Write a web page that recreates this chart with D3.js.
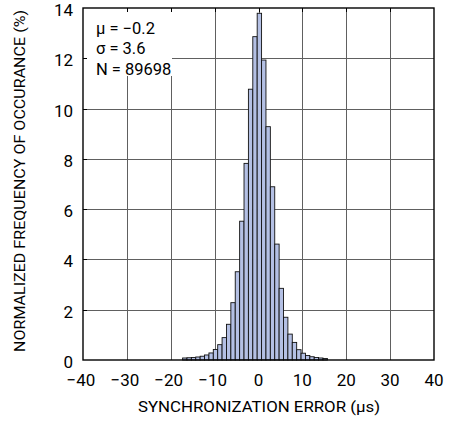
<!DOCTYPE html>
<html>
<head>
<meta charset="utf-8">
<script src="https://cdn.jsdelivr.net/npm/d3@7"></script>
<style>
  html, body { margin: 0; padding: 0; background: #fff; }
  svg { display: block; }
  text { font-family: Roboto, "Liberation Sans", sans-serif; fill: #000; }
</style>
</head>
<body>
<svg id="chart" width="453" height="421"></svg>
<script>
// Histogram bins (µs, bin label) and normalized frequency (%)
const binStarts = [-17,-16,-15,-14,-13,-12,-11,-10,-9,-8,-7,-6,-5,-4,-3,-2,-1,0,1,2,3,4,5,6,7,8,9,10,11,12,13,14,15];
const frequency = [0.08,0.09,0.10,0.12,0.15,0.20,0.28,0.42,0.61,0.89,1.42,2.28,3.51,5.52,7.82,10.77,12.86,13.79,11.93,9.28,6.89,4.61,2.85,1.70,1.03,0.70,0.41,0.27,0.18,0.13,0.10,0.08,0.06];
const xTicks = [-40,-30,-20,-10,0,10,20,30,40];
const yTicks = [0,2,4,6,8,10,12,14];
const statsLines = ["μ = −0.2", "σ = 3.6", "N = 89698"];
const xTitle = "SYNCHRONIZATION ERROR (μs)";
const yTitle = "NORMALIZED FREQUENCY OF OCCURANCE (%)";

const svg = d3.select("#chart");
const L = 83, R = 434, T = 8, B = 360;
const x = d3.scaleLinear().domain([-40, 40]).range([L, R]);
const y = d3.scaleLinear().domain([0, 14]).range([B, T]);
const binShift = -0.3, binW = 1;

// grid
const grid = svg.append("g").attr("stroke", "#606060").attr("stroke-width", 1);
grid.selectAll("line.v").data(xTicks.slice(1, -1)).join("line")
  .attr("x1", d => Math.round(x(d)) + 0.5).attr("x2", d => Math.round(x(d)) + 0.5)
  .attr("y1", T).attr("y2", B);
grid.selectAll("line.h").data(yTicks.slice(1, -1)).join("line")
  .attr("class", "h")
  .attr("x1", L).attr("x2", R)
  .attr("y1", d => Math.round(y(d)) + 0.5).attr("y2", d => Math.round(y(d)) + 0.5);

// bars
const data = binStarts.map((b, i) => ({ b, v: frequency[i] }));
svg.append("g").selectAll("rect").data(data).join("rect")
  .attr("x", d => x(d.b + binShift))
  .attr("width", d => x(d.b + binShift + binW) - x(d.b + binShift))
  .attr("y", d => y(d.v))
  .attr("height", d => y(0) - y(d.v))
  .attr("fill", "#b4c0e4")
  .attr("stroke", "#111")
  .attr("stroke-width", 0.9);

// stats box
svg.append("rect").attr("x", L + 4).attr("y", T + 4).attr("width", 85).attr("height", 64).attr("fill", "#fff");
svg.append("g").selectAll("text").data(statsLines).join("text")
  .attr("x", 96).attr("y", (d, i) => 33.5 + i * 20.5)
  .attr("font-size", 16.5)
  .text(d => d);

// inward ticks on top/left
const tk = svg.append("g").attr("stroke", "#000").attr("stroke-width", 1);
tk.selectAll("line.t").data(xTicks.slice(1, -1)).join("line").attr("class", "t")
  .attr("x1", d => Math.round(x(d)) + 0.5).attr("x2", d => Math.round(x(d)) + 0.5)
  .attr("y1", T).attr("y2", T + 4);
tk.selectAll("line.l").data(yTicks.slice(1, -1)).join("line").attr("class", "l")
  .attr("x1", L).attr("x2", L + 4)
  .attr("y1", d => Math.round(y(d)) + 0.5).attr("y2", d => Math.round(y(d)) + 0.5);

// frame
svg.append("rect").attr("x", L).attr("y", T).attr("width", R - L).attr("height", B - T)
  .attr("fill", "none").attr("stroke", "#000").attr("stroke-width", 1.4);

// axis labels
svg.append("g").selectAll("text").data(xTicks).join("text")
  .attr("x", d => x(d) - (d < 0 ? 2 : 0)).attr("y", 385.5)
  .attr("text-anchor", "middle").attr("font-size", 17)
  .text(d => d < 0 ? "−" + Math.abs(d) : d);
svg.append("g").selectAll("text").data(yTicks).join("text")
  .attr("x", 73).attr("y", d => y(d) + 8)
  .attr("text-anchor", "end").attr("font-size", 17)
  .text(d => d);

svg.append("text").attr("x", 259).attr("y", 412).attr("text-anchor", "middle")
  .attr("font-size", 15.5).attr("textLength", 242).attr("lengthAdjust", "spacingAndGlyphs")
  .text(xTitle);
svg.append("text").attr("transform", "translate(25,181) rotate(-90)")
  .attr("text-anchor", "middle").attr("font-size", 15.5)
  .attr("textLength", 342).attr("lengthAdjust", "spacingAndGlyphs").text(yTitle);
</script>
</body>
</html>
